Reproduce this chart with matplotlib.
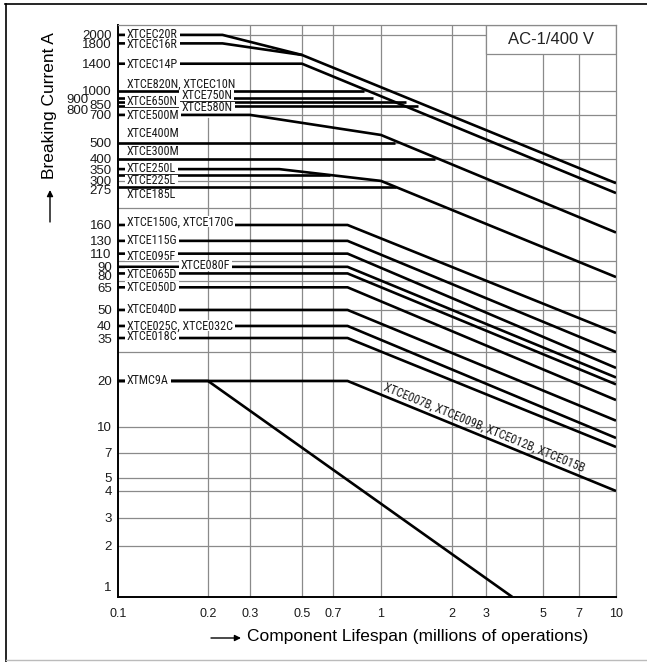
import numpy as np
import matplotlib
matplotlib.use('Agg')
import matplotlib.pyplot as plt
from matplotlib.patches import Rectangle
from matplotlib.lines import Line2D
from matplotlib.transforms import IdentityTransform

plt.rcParams['font.family'] = ['Liberation Sans', 'DejaVu Sans']
NARROW = ['Roboto Condensed', 'Liberation Sans Narrow', 'DejaVu Sans']

# ---- data (lifespan in millions of operations, current in A) ----
# large contactors, each curve given by its breakpoints
UPPER_NAMES = ['XTCEC20R', 'XTCEC16R', 'XTCEC14P', 'XTCE820N', 'XTCE750N',
               'XTCE650N', 'XTCE580N', 'XTCE500M', 'XTCE400M', 'XTCE300M',
               'XTCE250L', 'XTCE225L', 'XTCE185L']
UPPER_X = [[0.1, 0.23, 0.5, 10],
           [0.1, 0.23, 0.5],
           [0.1, 0.5, 10],
           [0.1, 0.88],
           [0.1, 0.94],
           [0.1, 1.28],
           [0.1, 1.43],
           [0.1, 0.3, 1, 10],
           [0.1, 1.15],
           [0.1, 1.7],
           [0.1, 0.4, 1, 10],
           [0.1, 0.68],
           [0.1, 1.16]]
UPPER_Y = [[2000, 2000, 1560, 290],
           [1800, 1800, 1560],
           [1400, 1400, 250],
           [1000, 1000],
           [900, 900],
           [850, 850],
           [800, 800],
           [700, 700, 550, 145],
           [500, 500],
           [400, 400],
           [350, 350, 300, 75],
           [325, 325],
           [275, 275]]

# smaller contactors: flat up to the knee, then falling to the value at 10 M
LOW_KNEE = 0.78
LOW_CURRENT = [160, 130, 110, 90, 80, 65, 50, 40, 35, 20]
LOW_END = [37, 30, 24, 21, 19, 15, 11, 8.6, 7.6, 4]

XTMC9A_X = [0.1, 0.2, 3.8]
XTMC9A_Y = [20, 20, 1]

X_TICKS = [0.1, 0.2, 0.3, 0.5, 0.7, 1, 2, 3, 5, 7, 10]
X_TICK_LABELS = ['0.1', '0.2', '0.3', '0.5', '0.7', '1', '2', '3', '5', '7', '10']
X_GRID = [0.3, 0.5, 0.7, 1, 2, 3, 5, 7]
Y_TICKS = [2000, 1800, 1400, 1000, 700, 500, 400, 350, 300, 160,
           130, 110, 90, 65, 50, 40, 35, 20, 10, 7, 5, 4, 3, 2]
Y_GRID = [2, 3, 4, 5, 7, 10, 20, 30, 40, 50, 70, 100, 200, 300, 400, 500,
          700, 1000, 2000]
# tick labels set apart from the others: value, shift left (px), shift up (px)
Y_TICKS_SHIFTED = [(900, 23, -2), (850, 0, -4), (800, 23, -5), (275, 0, -4),
                   (80, 0, -4), (1, 0, 9)]

# the drawing's axes are only roughly logarithmic: grid positions (px)
X_KNOTS = [0.1, 0.2, 0.3, 0.5, 0.7, 1, 2, 3, 5, 7, 10]
X_POS = [0, 90, 132, 184, 215, 263, 334, 368, 425, 461, 498]
Y_KNOTS = [1, 2, 3, 4, 5, 7, 10, 20, 30, 40, 50, 70, 100, 200, 300, 400,
           500, 700, 1000, 2000]
Y_POS = [0, 51, 79, 106, 119, 144, 170, 216, 245, 271, 287, 316, 336, 389,
         416, 438, 454, 482, 506, 562]

# label text, x, y anchor, vertical nudge (px), white backing
LABELS = [('XTCEC20R', 0.107, 2000, 0, True),
          ('XTCEC16R', 0.107, 1800, -1, True),
          ('XTCEC14P', 0.107, 1400, -1, True),
          ('XTCE820N, XTCEC10N', 0.107, 1000, 7, False),
          ('XTCE650N', 0.107, 850, 0, True),
          ('XTCE750N', 0.163, 900, 2, True),
          ('XTCE580N', 0.163, 800, -2, True),
          ('XTCE500M', 0.107, 700, -1, True),
          ('XTCE400M', 0.107, 500, 9, False),
          ('XTCE300M', 0.107, 400, 7, False),
          ('XTCE250L', 0.107, 350, 1, True),
          ('XTCE225L', 0.107, 300, 0, True),
          ('XTCE185L', 0.107, 275, -8, False),
          ('XTCE150G, XTCE170G', 0.107, 160, 3, True),
          ('XTCE115G', 0.107, 130, 0, True),
          ('XTCE095F', 0.107, 110, -3, True),
          ('XTCE080F', 0.162, 90, 1, True),
          ('XTCE065D', 0.107, 80, -1, True),
          ('XTCE050D', 0.107, 65, 0, True),
          ('XTCE040D', 0.107, 50, 0, True),
          ('XTCE025C, XTCE032C', 0.107, 40, 0, True),
          ('XTCE018C', 0.107, 35, 2, True),
          ('XTMC9A', 0.107, 20, 0, True)]


def knot_scale(knots, pos):
    lk = np.log10(knots)
    p = np.asarray(pos, float)
    s0 = (p[1] - p[0]) / (lk[1] - lk[0])
    s1 = (p[-1] - p[-2]) / (lk[-1] - lk[-2])

    def fwd(v):
        l = np.log10(np.clip(np.asarray(v, float), 1e-9, None))
        out = np.interp(l, lk, p)
        out = np.where(l < lk[0], p[0] + (l - lk[0]) * s0, out)
        return np.where(l > lk[-1], p[-1] + (l - lk[-1]) * s1, out)

    def inv(q):
        q = np.asarray(q, float)
        l = np.interp(q, p, lk)
        l = np.where(q < p[0], lk[0] + (q - p[0]) / s0, l)
        l = np.where(q > p[-1], lk[-1] + (q - p[-1]) / s1, l)
        return 10 ** l

    return fwd, inv


W, H = 647, 662
GRID = '#8a8a8a'
TXT = '#1a1a1a'
fig = plt.figure(figsize=(W / 100, H / 100), dpi=100)
ax = fig.add_axes([118 / W, 1 - 597 / H, 498 / W, 572 / H])

ax.set_xscale('function', functions=knot_scale(X_KNOTS, X_POS))
ax.set_yscale('function', functions=knot_scale(Y_KNOTS, Y_POS))
ax.set_xlim(0.1, 10)
ax.set_ylim(1, 2260)

# grid lines sit on minor ticks, some of which coincide with labelled ones
ax.xaxis.remove_overlapping_locs = False
ax.yaxis.remove_overlapping_locs = False
ax.set_xticks(X_TICKS, X_TICK_LABELS, fontsize=9, color=TXT)
ax.set_xticks(X_GRID, minor=True)
ax.set_yticks(Y_TICKS, [str(v) for v in Y_TICKS], fontsize=9.5, color=TXT)
ax.set_yticks(Y_GRID, minor=True)
ax.tick_params(which='both', length=0)
ax.tick_params(axis='x', pad=8)
ax.tick_params(axis='y', pad=4.5)
ax.grid(True, which='minor', color=GRID, lw=0.9)
ax.grid(False, which='major')
# the 0.2 line stops below the label block
ax.axvline(0.2, ymax=0.837, color=GRID, lw=0.9, zorder=0.5)
ax.set_axisbelow(True)
for side in ['top', 'right']:
    ax.spines[side].set_color(GRID)
    ax.spines[side].set_linewidth(0.9)
for side in ['left', 'bottom']:
    ax.spines[side].set_color('black')
    ax.spines[side].set_linewidth(1.4)

for val, dx, dy in Y_TICKS_SHIFTED:
    ax.annotate(str(val), xy=(0, val), xycoords=('axes fraction', 'data'),
                xytext=(-4.5 - dx * 0.72, dy * 0.72), textcoords='offset points',
                ha='right', va='center', fontsize=9.5, color=TXT)

line_kw = dict(color='black', lw=1.9, solid_capstyle='butt', zorder=3)
for xs, ys in zip(UPPER_X, UPPER_Y):
    ax.plot(xs, ys, **line_kw)
for cur, end in zip(LOW_CURRENT, LOW_END):
    ax.plot([0.1, LOW_KNEE, 10], [cur, cur, end], **line_kw)
ax.plot(XTMC9A_X, XTMC9A_Y, **line_kw)

masked = []
for text, x, y, dy, mask in LABELS:
    t = ax.annotate(text, xy=(x, y), xytext=(0, dy * 0.72),
                    textcoords='offset points', ha='left', va='center',
                    fontsize=8.7, family=NARROW, color=TXT, zorder=4)
    if mask:
        masked.append(t)

# slanted label along the 20 A curve
p1 = ax.transData.transform((LOW_KNEE, LOW_CURRENT[-1]))
p2 = ax.transData.transform((10, LOW_END[-1]))
ang = np.degrees(np.arctan2(p2[1] - p1[1], p2[0] - p1[0]))
xs = ax.transData.transform((1.0, 1))[0]
t = (xs - p1[0]) / (p2[0] - p1[0])
anchor = ax.transData.inverted().transform(p1 + t * (p2 - p1))
nx, ny = -np.sin(np.radians(ang)), np.cos(np.radians(ang))
ax.annotate('XTCE007B, XTCE009B, XTCE012B, XTCE015B', xy=anchor,
            xytext=(1.5 * nx, 1.5 * ny), textcoords='offset points',
            rotation=ang, rotation_mode='anchor', ha='left', va='bottom',
            fontsize=8.7, family=NARROW, color=TXT, zorder=4)

# white gaps in the curves behind the labels (cap height only)
fig.canvas.draw()
rend = fig.canvas.get_renderer()
for t in masked:
    bb = t.get_window_extent(rend)
    h = bb.height
    ax.add_patch(Rectangle((bb.x0 - 2, bb.y0 + 0.14 * h), bb.width + 4,
                           0.84 * h, transform=IdentityTransform(),
                           fc='white', ec='none', zorder=3.5))

# AC-1 box in the corner
ax.add_patch(Rectangle((0.739, 0.949), 0.261, 0.051, transform=ax.transAxes,
                       fc='white', ec=GRID, lw=0.9, zorder=2))
ax.text(0.869, 0.974, 'AC-1/400 V', transform=ax.transAxes, ha='center',
        va='center', fontsize=12, color='#222222', zorder=3)

# axis titles with arrows
fig.text(50 / W, 1 - 106 / H, 'Breaking Current A', rotation=90,
         ha='center', va='center', fontsize=12.5)
fig.text(247 / W, 1 - 637 / H, 'Component Lifespan (millions of operations)',
         ha='left', va='center', fontsize=12.5)
arrow = dict(arrowstyle='-|>', color='black', lw=1.0, mutation_scale=9,
             shrinkA=0, shrinkB=0)
ax.annotate('', xy=(50 / W, 1 - 190 / H), xytext=(50 / W, 1 - 222 / H),
            xycoords='figure fraction', arrowprops=arrow)
ax.annotate('', xy=(241 / W, 1 - 638 / H), xytext=(211 / W, 1 - 638 / H),
            xycoords='figure fraction', arrowprops=arrow)

# outer frame
fig.add_artist(Line2D([5 / W, 1], [1 - 4 / H] * 2, transform=fig.transFigure,
                      color='black', lw=1.2))
fig.add_artist(Line2D([6 / W] * 2, [1 - 4 / H, 0], transform=fig.transFigure,
                      color='black', lw=1.2))
fig.add_artist(Line2D([6 / W, 1], [1 - 660 / H] * 2, transform=fig.transFigure,
                      color='#bbbbbb', lw=1.0))

fig.savefig('out.png', dpi=100)
